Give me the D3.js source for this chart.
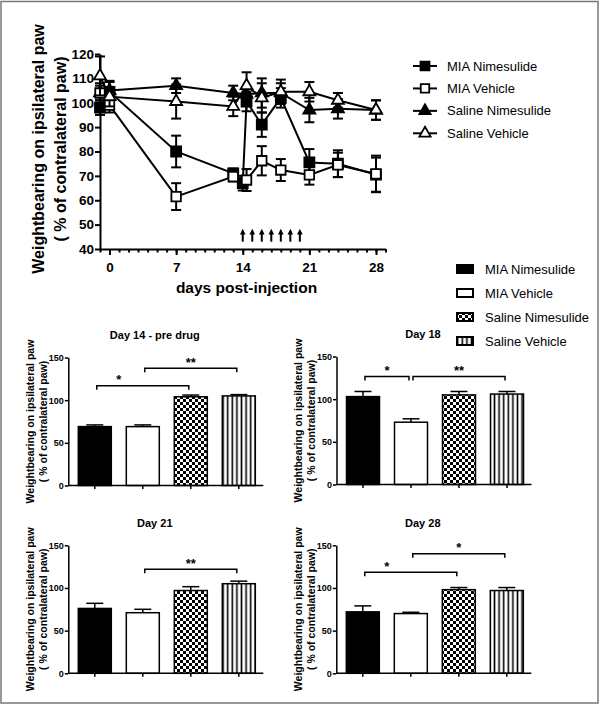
<!DOCTYPE html>
<html><head><meta charset="utf-8">
<script src="https://cdn.jsdelivr.net/npm/d3@7"></script>
<style>
body{margin:0;background:#fff}
svg{display:block}
text{font-family:Arial,"Liberation Sans",sans-serif;fill:#000}
</style>
</head><body>
<svg id="c" width="600" height="713"></svg>
<script>
// ---------- DATA ----------
const seriesNames = ["MIA Nimesulide", "MIA Vehicle", "Saline Nimesulide", "Saline Vehicle"];
const days = [-1, 0, 7, 13, 14, 14.4, 16, 18, 21, 24, 28];
const miaNimMean = [98, 104.5, 80, 71, 67, 100.5, 91, 102, 75.5, 75, 70.5];
const miaNimErr  = [3, 4, 6.5, 2, 3, 4, 5, 4, 5.5, 5.5, 7];
const miaVehMean = [104, 99, 61.5, 69.7, null, 68.3, 76.2, 72.4, 70.4, 74.5, 70.8];
const miaVehErr  = [3, 3, 5.5, 2, null, 4.5, 6, 4.5, 4, 5, 7.5];
const salNimMean = [104, 105, 107, 104, null, 103.5, 104, 104, 97, 97.5, 97];
const salNimErr  = [4, 4, 3, 3, null, 3, 6, 4, 5, 4, 4];
const salVehMean = [111, 102.5, 100.5, 98.5, null, 107, 102, 104.5, 104.5, 101, 97];
const salVehErr  = [8, 4, 7, 4, null, 5.5, 6, 5, 4, 3, 4];
const dayTicks = [0, 7, 14, 21, 28];
const lineYTicks = [40, 50, 60, 70, 80, 90, 100, 110, 120];
const arrowDays = [14, 15, 16, 17, 18, 19, 20];

const barTitles = ["Day 14 - pre drug", "Day 18", "Day 21", "Day 28"];
const barDay14 = [69, 69, 104, 105];
const errDay14 = [2, 2, 2, 1.5];
const barDay18 = [103, 73, 105, 106];
const errDay18 = [6, 4, 4, 3];
const barDay21 = [76, 71, 97, 105];
const errDay21 = [6, 4, 4.5, 3];
const barDay28 = [72, 70, 98, 97];
const errDay28 = [7, 1.5, 2.5, 3.5];
const barYTicks = [0, 50, 100, 150];
const sigDay14 = [{a:0,b:2,level:117,label:"*",pos:0.24},{a:1,b:3,level:137.5,label:"**",pos:0.5}];
const sigDay18 = [{a:0,b:1,level:126.5,label:"*",pos:0.5},{a:1,b:3,level:126.5,label:"**",pos:0.5}];
const sigDay21 = [{a:1,b:3,level:122,label:"**",pos:0.5}];
const sigDay28 = [{a:0,b:2,level:118.5,label:"*",pos:0.24},{a:1,b:3,level:140,label:"*",pos:0.5}];

const yTitle1 = "Weightbearing on ipsilateral paw";
const yTitle2 = "( % of contralateral paw)";
const xTitle = "days post-injection";

// ---------- DRAW ----------
const svg = d3.select("#c");
svg.append("rect").attr("x",1).attr("y",1.5).attr("width",597).attr("height",701.5)
  .attr("fill","none").attr("stroke","#777").attr("stroke-width",1.5);

const defs = svg.append("defs");
const chk = defs.append("pattern").attr("id","chk").attr("patternUnits","userSpaceOnUse")
  .attr("width",6).attr("height",6);
chk.append("rect").attr("width",6).attr("height",6).attr("fill","#fff");
chk.append("rect").attr("width",3).attr("height",3).attr("fill","#000");
chk.append("rect").attr("x",3).attr("y",3).attr("width",3).attr("height",3).attr("fill","#000");
const str = defs.append("pattern").attr("id","str").attr("patternUnits","userSpaceOnUse")
  .attr("width",4.6).attr("height",10);
str.append("rect").attr("width",4.6).attr("height",10).attr("fill","#fff");
str.append("rect").attr("x",1.5).attr("width",1.6).attr("height",10).attr("fill","#000");

// ----- line chart -----
const xL = d3.scaleLinear().domain([-1, 29]).range([100, 385.5]);
const yL = d3.scaleLinear().domain([40, 120]).range([249, 54]);
const lc = svg.append("g");

const yAx = lc.append("g").attr("transform","translate(100,0)")
  .call(d3.axisLeft(yL).tickValues(lineYTicks).tickSize(5).tickPadding(1).tickSizeOuter(0));
yAx.selectAll("text").attr("font-size",13.5).attr("font-weight","bold").attr("font-family","Arial,'Liberation Sans',sans-serif");
yAx.selectAll("path,line").attr("stroke","#000").attr("stroke-width",2);

const xMinor = lc.append("g").attr("transform","translate(0,249)")
  .call(d3.axisBottom(xL).tickValues(d3.range(-1, 30)).tickSize(3.5).tickFormat("").tickSizeOuter(0));
xMinor.selectAll("path,line").attr("stroke","#000").attr("stroke-width",2);
const xAx = lc.append("g").attr("transform","translate(0,249)")
  .call(d3.axisBottom(xL).tickValues(dayTicks).tickSize(6).tickPadding(7).tickSizeOuter(0));
xAx.select("path").remove();
xAx.selectAll("line").attr("stroke","#000").attr("stroke-width",2);
xAx.selectAll("text").attr("font-size",13.5).attr("font-weight","bold").attr("font-family","Arial,'Liberation Sans',sans-serif");

lc.append("text").attr("transform","translate(44,149) rotate(-90)").attr("text-anchor","middle")
  .attr("font-size",16).attr("font-weight","bold").text(yTitle1);
lc.append("text").attr("transform","translate(66,149) rotate(-90)").attr("text-anchor","middle")
  .attr("font-size",16).attr("font-weight","bold").text(yTitle2);
lc.append("text").attr("x",246.5).attr("y",292.5).attr("text-anchor","middle")
  .attr("font-size",15.5).attr("font-weight","bold").text(xTitle);

const lineSeries = [
  {name:seriesNames[0], mean:miaNimMean, err:miaNimErr, sym:d3.symbolSquare, size:100, fill:"#000"},
  {name:seriesNames[2], mean:salNimMean, err:salNimErr, sym:d3.symbolTriangle, size:62, fill:"#000"},
  {name:seriesNames[1], mean:miaVehMean, err:miaVehErr, sym:d3.symbolSquare, size:90, fill:"#fff"},
  {name:seriesNames[3], mean:salVehMean, err:salVehErr, sym:d3.symbolTriangle, size:62, fill:"#fff"}
];
const lineGen = d3.line().x(d=>xL(d.day)).y(d=>yL(d.v));
lineSeries.forEach(s => {
  s.pts = days.map((d,i)=>({day:d, v:s.mean[i], e:s.err[i]})).filter(p=>p.v!==null);
});
// lines
lineSeries.forEach(s => {
  lc.append("path").datum(s.pts).attr("d",lineGen).attr("fill","none")
    .attr("stroke","#000").attr("stroke-width",2);
});
// error bars + markers
lineSeries.forEach(s => {
  const g = lc.append("g");
  s.pts.forEach(p => {
    const x = xL(p.day), y1 = yL(p.v + p.e), y2 = yL(p.v - p.e);
    g.append("line").attr("x1",x).attr("x2",x).attr("y1",y1).attr("y2",y2).attr("stroke","#000").attr("stroke-width",2);
    [y1,y2].forEach(yy => g.append("line").attr("x1",x-5).attr("x2",x+5).attr("y1",yy).attr("y2",yy)
      .attr("stroke","#000").attr("stroke-width",2));
  });
  s.pts.forEach(p => {
    g.append("path").attr("d",d3.symbol().type(s.sym).size(s.size)())
      .attr("transform",`translate(${xL(p.day)},${yL(p.v)})`)
      .attr("fill",s.fill).attr("stroke","#000").attr("stroke-width",1.8);
  });
});
// arrows
arrowDays.forEach(d => {
  const x = xL(d);
  lc.append("line").attr("x1",x).attr("x2",x).attr("y1",yL(43)).attr("y2",yL(46.5))
    .attr("stroke","#000").attr("stroke-width",2);
  lc.append("path").attr("d",`M${x-2.8},${yL(46)} L${x+2.8},${yL(46)} L${x},${yL(48.3)} Z`).attr("fill","#000");
});
// line legend
const legOrder = [
  {name:seriesNames[0], sym:d3.symbolSquare, size:80, fill:"#000"},
  {name:seriesNames[1], sym:d3.symbolSquare, size:72, fill:"#fff"},
  {name:seriesNames[2], sym:d3.symbolTriangle, size:55, fill:"#000"},
  {name:seriesNames[3], sym:d3.symbolTriangle, size:55, fill:"#fff"}
];
const legY = d3.scalePoint().domain(seriesNames).range([66, 133.3]);
legOrder.forEach(l => {
  const y = legY(l.name);
  lc.append("line").attr("x1",413).attr("x2",437).attr("y1",y).attr("y2",y).attr("stroke","#000").attr("stroke-width",2);
  lc.append("path").attr("d",d3.symbol().type(l.sym).size(l.size)()).attr("transform",`translate(425,${y})`)
    .attr("fill",l.fill).attr("stroke","#000").attr("stroke-width",1.8);
  lc.append("text").attr("x",447).attr("y",y+4.6).attr("font-size",13).text(l.name);
});

// ----- bar charts -----
const barFills = ["#000", "#fff", "url(#chk)", "url(#str)"];
const panels = [
  {left:68.3, bottom:485.5, title:barTitles[0], vals:barDay14, errs:errDay14, sig:sigDay14},
  {left:336.5, bottom:484.5, title:barTitles[1], vals:barDay18, errs:errDay18, sig:sigDay18},
  {left:68.3, bottom:673.3, title:barTitles[2], vals:barDay21, errs:errDay21, sig:sigDay21},
  {left:336.3, bottom:673.3, title:barTitles[3], vals:barDay28, errs:errDay28, sig:sigDay28}
];
panels.forEach(p => {
  const g = svg.append("g");
  const W = 195, H = 128;
  const y = d3.scaleLinear().domain([0,150]).range([p.bottom, p.bottom - H]);
  const x = d3.scaleBand().domain(seriesNames).range([p.left + 1, p.left + 1 + W]).paddingInner(0.3125).paddingOuter(0.1875);
  // bars
  seriesNames.forEach((n,i) => {
    g.append("rect").attr("x",x(n)).attr("y",y(p.vals[i])).attr("width",x.bandwidth())
      .attr("height",y(0)-y(p.vals[i])).attr("fill",barFills[i]).attr("stroke","#000").attr("stroke-width",1.5);
    const cx = x(n) + x.bandwidth()/2, ye = y(p.vals[i] + p.errs[i]);
    g.append("line").attr("x1",cx).attr("x2",cx).attr("y1",y(p.vals[i])).attr("y2",ye).attr("stroke","#000").attr("stroke-width",1.5);
    g.append("line").attr("x1",cx-8.5).attr("x2",cx+8.5).attr("y1",ye).attr("y2",ye).attr("stroke","#000").attr("stroke-width",1.5);
  });
  // axes
  const ya = g.append("g").attr("transform",`translate(${p.left},0)`)
    .call(d3.axisLeft(y).tickValues(barYTicks).tickSize(3.5).tickPadding(1).tickSizeOuter(0));
  ya.selectAll("path,line").attr("stroke","#000").attr("stroke-width",1.5);
  ya.selectAll("text").attr("font-size",9).attr("font-weight","bold").attr("font-family","Arial,'Liberation Sans',sans-serif");
  g.append("line").attr("x1",p.left).attr("x2",p.left+W).attr("y1",p.bottom).attr("y2",p.bottom)
    .attr("stroke","#000").attr("stroke-width",1.5);
  seriesNames.forEach(n => {
    const cx = x(n) + x.bandwidth()/2;
    g.append("line").attr("x1",cx).attr("x2",cx).attr("y1",p.bottom).attr("y2",p.bottom+3.5)
      .attr("stroke","#000").attr("stroke-width",1.5);
  });
  // y titles
  const cy = p.bottom - H/2;
  g.append("text").attr("transform",`translate(${p.left-34.5},${cy}) rotate(-90)`).attr("text-anchor","middle")
    .attr("font-size",10.5).attr("font-weight","bold").text(yTitle1);
  g.append("text").attr("transform",`translate(${p.left-21.5},${cy}) rotate(-90)`).attr("text-anchor","middle")
    .attr("font-size",10.5).attr("font-weight","bold").text(yTitle2);
  // title
  g.append("text").attr("x",p.left+86.5).attr("y",p.bottom-H-18.5).attr("text-anchor","middle")
    .attr("font-size",11).attr("font-weight","bold").text(p.title);
  // significance
  p.sig.forEach(s => {
    const x1 = x(seriesNames[s.a]) + x.bandwidth()/2 + 2, x2 = x(seriesNames[s.b]) + x.bandwidth()/2 - 2;
    const yy = y(s.level);
    g.append("path").attr("d",`M${x1},${yy+4}V${yy}H${x2}V${yy+4}`).attr("fill","none")
      .attr("stroke","#000").attr("stroke-width",1.5);
    g.append("text").attr("x",x1 + (x2-x1)*s.pos).attr("y",yy-1.5).attr("text-anchor","middle")
      .attr("font-size",13).attr("font-weight","bold").text(s.label);
  });
});

// bar legend
const barLegY = d3.scalePoint().domain(seriesNames).range([269, 341]);
seriesNames.forEach((n,i) => {
  const yy = barLegY(n);
  svg.append("rect").attr("x",457).attr("y",yy-4).attr("width",16).attr("height",8)
    .attr("fill",barFills[i]).attr("stroke","#000").attr("stroke-width",2);
  svg.append("text").attr("x",485).attr("y",yy+4.6).attr("font-size",13).text(n);
});
</script>
</body></html>
